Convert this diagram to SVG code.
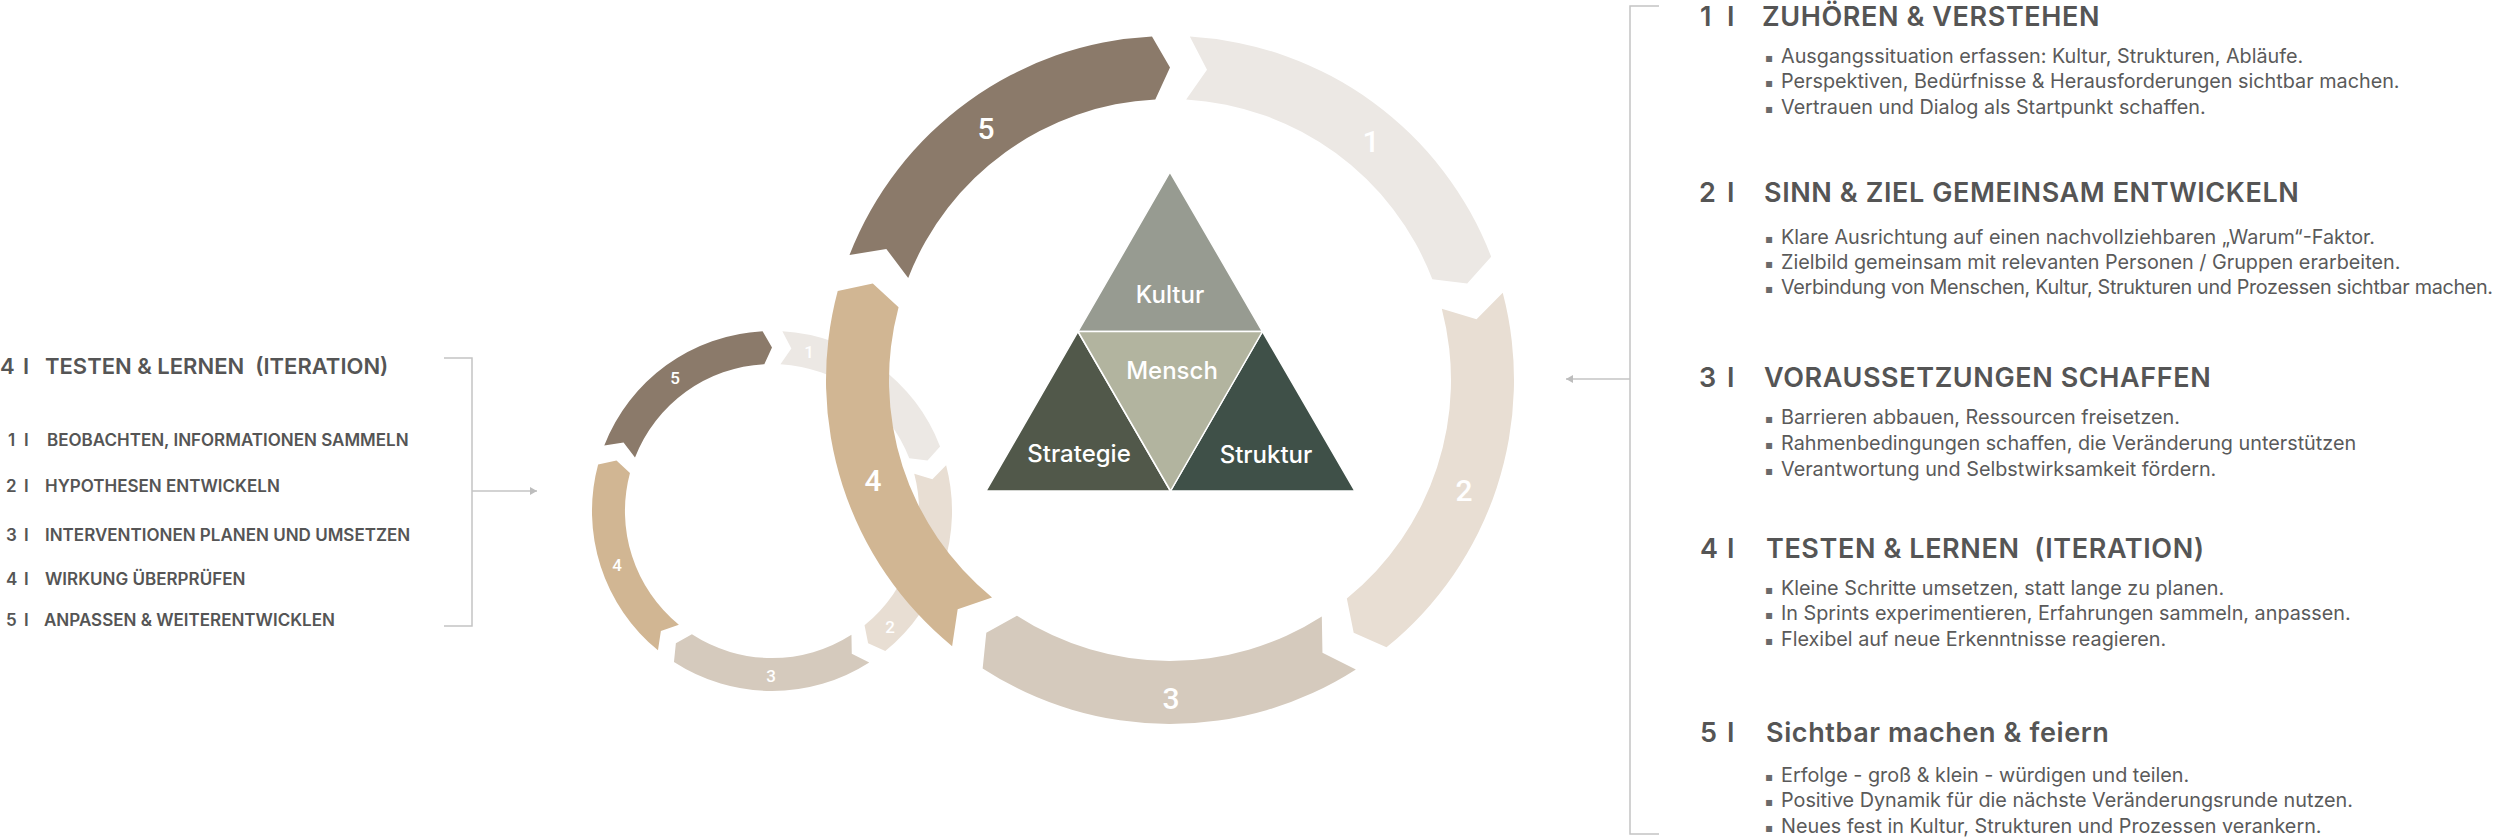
<svg xmlns="http://www.w3.org/2000/svg" xmlns:xlink="http://www.w3.org/1999/xlink" width="2500" height="840" viewBox="0 0 2500 840">
<style>
.h{font-family:Inter,"Liberation Sans",sans-serif;font-weight:600;font-size:27px;letter-spacing:0.6px;fill:#555555}
.b{font-family:Inter,"Liberation Sans",sans-serif;font-weight:400;font-size:19.8px;fill:#5a5a5a}
.blt{font-family:"DejaVu Sans",sans-serif;font-size:12px;fill:#6a6a6a}
.lh{font-family:Inter,"Liberation Sans",sans-serif;font-weight:600;font-size:22px;fill:#555555}
.li{font-family:Inter,"Liberation Sans",sans-serif;font-weight:600;font-size:17px;fill:#555555}
.bn{font-family:Roboto,"DejaVu Sans",sans-serif;font-weight:500;font-size:30px;fill:#ffffff;text-anchor:middle}
.sn{font-family:Roboto,"DejaVu Sans",sans-serif;font-weight:500;font-size:17px;fill:#ffffff;text-anchor:middle}
.tri{font-family:Inter,"Liberation Sans",sans-serif;font-weight:500;font-size:24px;fill:#ffffff;text-anchor:middle}
.c1{fill:#ECE8E4}.c2{fill:#E8DED3}.c3{fill:#D5CABD}.c4{fill:#D1B693}.c5{fill:#8B7A6A}
.ln{fill:none;stroke:#C4C4C4;stroke-width:1.5}
</style>
<defs>
<path id="seg" d="M19.80,-343.43 A344,344 0 0 1 321.15,-123.28 L297.21,-96.57 L262.34,-100.70 A281,281 0 0 0 16.17,-280.53 L37.00,-310.30 Z"/>
<marker id="ah" markerUnits="userSpaceOnUse" markerWidth="8" markerHeight="10" refX="7" refY="5" orient="auto">
<path d="M0,1 L7,5 L0,9 Z" fill="#BDBDBD"/>
</marker>
</defs>
<rect width="2500" height="840" fill="#ffffff"/>

<g id="small-cycle">
<use xlink:href="#seg" class="c1" transform="translate(772,511) scale(0.5233) rotate(0)"/>
<use xlink:href="#seg" class="c2" transform="translate(772,511) scale(0.5233) rotate(72)"/>
<use xlink:href="#seg" class="c3" transform="translate(772,511) scale(0.5233) rotate(144)"/>
<use xlink:href="#seg" class="c4" transform="translate(772,511) scale(0.5233) rotate(216)"/>
<use xlink:href="#seg" class="c5" transform="translate(772,511) scale(0.5233) rotate(288)"/>
<text class="sn" x="809" y="358">1</text>
<text class="sn" x="890" y="633">2</text>
<text class="sn" x="771" y="682">3</text>
<text class="sn" x="617" y="571">4</text>
<text class="sn" x="675" y="384">5</text>
</g>

<g id="big-cycle">
<use xlink:href="#seg" class="c1" transform="translate(1170,380) rotate(0)"/>
<use xlink:href="#seg" class="c2" transform="translate(1170,380) rotate(72)"/>
<use xlink:href="#seg" class="c3" transform="translate(1170,380) rotate(144)"/>
<use xlink:href="#seg" class="c4" transform="translate(1170,380) rotate(216)"/>
<use xlink:href="#seg" class="c5" transform="translate(1170,380) rotate(288)"/>
<text class="bn" x="1371" y="152">1</text>
<text class="bn" x="1464" y="501">2</text>
<text class="bn" x="1171" y="709">3</text>
<text class="bn" x="873" y="491">4</text>
<text class="bn" x="986" y="139">5</text>
</g>

<g id="triangle" stroke="#ffffff" stroke-width="1.5" stroke-linejoin="round">
<polygon points="1170,172 1078,331.5 1262.5,331.5" fill="#979B91"/>
<polygon points="1078,331.5 986,491 1170.5,491" fill="#51584A"/>
<polygon points="1262.5,331.5 1170.5,491 1355,491" fill="#3F5048"/>
<polygon points="1078,331.5 1262.5,331.5 1170.5,491" fill="#B2B49F"/>
</g>
<g id="triangle-labels">
<text class="tri" x="1170" y="303">Kultur</text>
<text class="tri" x="1172" y="379">Mensch</text>
<text class="tri" x="1079" y="462">Strategie</text>
<text class="tri" x="1266" y="463">Struktur</text>
</g>

<g id="connectors">
<path class="ln" d="M444,358 H472 V626 H444"/>
<line class="ln" x1="472" y1="491" x2="537" y2="491" marker-end="url(#ah)"/>
<path class="ln" d="M1659,6 H1630 V834 H1659"/>
<line class="ln" x1="1630" y1="379" x2="1566" y2="379" marker-end="url(#ah)"/>
</g>

<g id="iteration-list">
<text class="lh" y="374" xml:space="preserve"><tspan x="0">4</tspan><tspan x="23">I</tspan><tspan x="45">TESTEN &amp; LERNEN  (ITERATION)</tspan></text>
<text class="li" y="446"><tspan x="8">1</tspan><tspan x="24">I</tspan><tspan x="47">BEOBACHTEN, INFORMATIONEN SAMMELN</tspan></text>
<text class="li" y="492"><tspan x="6">2</tspan><tspan x="24">I</tspan><tspan x="45">HYPOTHESEN ENTWICKELN</tspan></text>
<text class="li" y="541"><tspan x="6">3</tspan><tspan x="24">I</tspan><tspan x="45">INTERVENTIONEN PLANEN UND UMSETZEN</tspan></text>
<text class="li" y="585"><tspan x="6">4</tspan><tspan x="24">I</tspan><tspan x="45">WIRKUNG ÜBERPRÜFEN</tspan></text>
<text class="li" y="626"><tspan x="6">5</tspan><tspan x="24">I</tspan><tspan x="44">ANPASSEN &amp; WEITERENTWICKLEN</tspan></text>
</g>

<g id="step-1">
<text class="h" y="26"><tspan x="1700">1</tspan><tspan x="1727">I</tspan><tspan x="1762">ZUHÖREN &amp; VERSTEHEN</tspan></text>
<text class="blt" x="1765" y="62">▪</text><text class="b" x="1781" y="63">Ausgangssituation erfassen: Kultur, Strukturen, Abläufe.</text>
<text class="blt" x="1765" y="87">▪</text><text class="b" x="1781" y="88">Perspektiven, Bedürfnisse &amp; Herausforderungen sichtbar machen.</text>
<text class="blt" x="1765" y="113">▪</text><text class="b" x="1781" y="114">Vertrauen und Dialog als Startpunkt schaffen.</text>
</g>
<g id="step-2">
<text class="h" y="202"><tspan x="1699">2</tspan><tspan x="1727">I</tspan><tspan x="1764">SINN &amp; ZIEL GEMEINSAM ENTWICKELN</tspan></text>
<text class="blt" x="1765" y="243">▪</text><text class="b" x="1781" y="244">Klare Ausrichtung auf einen nachvollziehbaren „Warum“-Faktor.</text>
<text class="blt" x="1765" y="268">▪</text><text class="b" x="1781" y="269">Zielbild gemeinsam mit relevanten Personen / Gruppen erarbeiten.</text>
<text class="blt" x="1765" y="293">▪</text><text class="b" x="1781" y="294" textLength="712" lengthAdjust="spacing">Verbindung von Menschen, Kultur, Strukturen und Prozessen sichtbar machen.</text>
</g>
<g id="step-3">
<text class="h" y="387"><tspan x="1699">3</tspan><tspan x="1727">I</tspan><tspan x="1764">VORAUSSETZUNGEN SCHAFFEN</tspan></text>
<text class="blt" x="1765" y="423">▪</text><text class="b" x="1781" y="424">Barrieren abbauen, Ressourcen freisetzen.</text>
<text class="blt" x="1765" y="449">▪</text><text class="b" x="1781" y="450">Rahmenbedingungen schaffen, die Veränderung unterstützen</text>
<text class="blt" x="1765" y="475">▪</text><text class="b" x="1781" y="476">Verantwortung und Selbstwirksamkeit fördern.</text>
</g>
<g id="step-4">
<text class="h" y="558" xml:space="preserve"><tspan x="1700">4</tspan><tspan x="1727">I</tspan><tspan x="1766">TESTEN &amp; LERNEN  (ITERATION)</tspan></text>
<text class="blt" x="1765" y="594">▪</text><text class="b" x="1781" y="595">Kleine Schritte umsetzen, statt lange zu planen.</text>
<text class="blt" x="1765" y="619">▪</text><text class="b" x="1781" y="620">In Sprints experimentieren, Erfahrungen sammeln, anpassen.</text>
<text class="blt" x="1765" y="645">▪</text><text class="b" x="1781" y="646">Flexibel auf neue Erkenntnisse reagieren.</text>
</g>
<g id="step-5">
<text class="h" y="742"><tspan x="1700">5</tspan><tspan x="1727">I</tspan><tspan x="1766">Sichtbar machen &amp; feiern</tspan></text>
<text class="blt" x="1765" y="781">▪</text><text class="b" x="1781" y="782">Erfolge - groß &amp; klein - würdigen und teilen.</text>
<text class="blt" x="1765" y="806">▪</text><text class="b" x="1781" y="807">Positive Dynamik für die nächste Veränderungsrunde nutzen.</text>
<text class="blt" x="1765" y="832">▪</text><text class="b" x="1781" y="833">Neues fest in Kultur, Strukturen und Prozessen verankern.</text>
</g>
</svg>
